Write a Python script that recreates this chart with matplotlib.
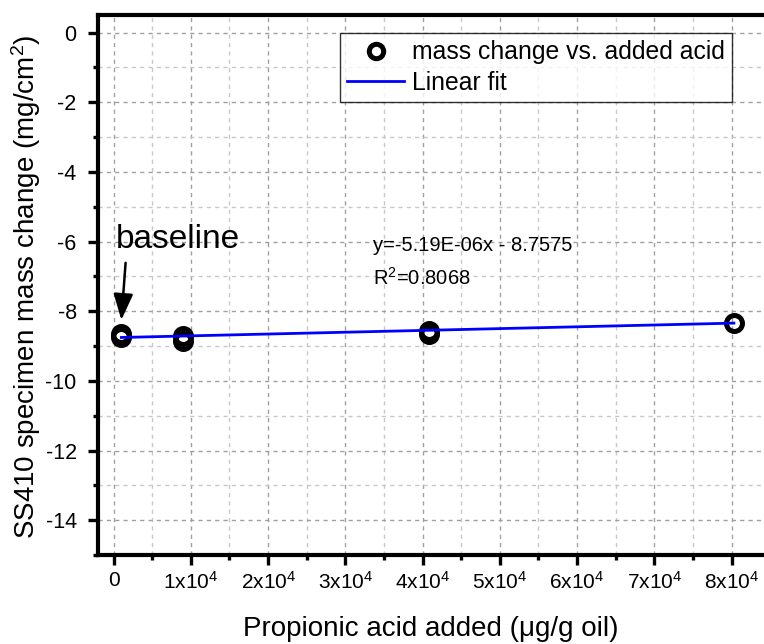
import numpy as np
import matplotlib
matplotlib.use("Agg")
import matplotlib.pyplot as plt
from matplotlib.ticker import MultipleLocator, FixedLocator, FixedFormatter

plt.rcParams["font.family"] = ["Liberation Sans", "DejaVu Sans"]
plt.rcParams["mathtext.fontset"] = "custom"
plt.rcParams["mathtext.rm"] = "Liberation Sans"
plt.rcParams["mathtext.default"] = "regular"
plt.rcParams["axes.unicode_minus"] = False

# propionic acid added (ug/g oil) and specimen mass change (mg/cm2)
acid_added = [1000, 1000, 9000, 9000, 40800, 40800, 80300]
mass_change = [-8.65, -8.75, -8.72, -8.85, -8.56, -8.65, -8.33]

# linear fit
fit_slope = 5.19e-6
fit_intercept = -8.7575
fit_label = "y=-5.19E-06x - 8.7575"
r2_label = "R$^2$=0.8068"

x_ticks = [0, 10000, 20000, 30000, 40000, 50000, 60000, 70000, 80000]
x_ticklabels = ["0"] + [f"{i}x10$^4$" for i in range(1, 9)]
y_ticks = [0, -2, -4, -6, -8, -10, -12, -14]

fig = plt.figure(figsize=(7.64, 6.44), dpi=100)
ax = fig.add_axes([0.128, 0.138, 0.872, 0.8385])

ax.plot(acid_added, mass_change, "o", ms=11.5, mfc="none", mec="black",
        mew=3.6, ls="none", label="mass change vs. added acid", zorder=3)

fx = np.array([min(acid_added), max(acid_added)])
ax.plot(fx, fit_slope * fx + fit_intercept, color="blue", lw=2,
        label="Linear fit", zorder=4)

ax.set_xlim(-2050, 84200)
ax.set_ylim(-15, 0.5)

ax.xaxis.set_major_locator(FixedLocator(x_ticks))
ax.xaxis.set_major_formatter(FixedFormatter(x_ticklabels))
ax.xaxis.set_minor_locator(MultipleLocator(5000))
ax.yaxis.set_major_locator(FixedLocator(y_ticks))
ax.yaxis.set_minor_locator(MultipleLocator(1))

ax.grid(which="major", color="#a0a0a0", ls=(0, (3, 3)), lw=1)
ax.grid(which="minor", color="#c8c8c8", ls=(0, (3, 3)), lw=1)
ax.set_axisbelow(True)

ax.tick_params(which="major", direction="out", length=7.2, width=2.4,
               labelsize=15, pad=4)
ax.tick_params(which="minor", direction="out", length=3.6, width=2.4)
ax.tick_params(axis="y", pad=8, labelsize=15.5)
ax.tick_params(top=False, right=False)

for side in ["left", "bottom", "top"]:
    ax.spines[side].set_linewidth(3)
ax.spines["right"].set_visible(False)

ax.set_xlabel("Propionic acid added (μg/g oil)", fontsize=20, va="center")
ax.xaxis.set_label_coords(0.5, -0.137)
ax.set_ylabel("SS410 specimen mass change (mg/cm$^2$)", fontsize=20, va="center")
ax.yaxis.set_label_coords(-0.108, 0.497)

ax.text(260, -5.95, "baseline", fontsize=24, ha="left", va="center")
ax.annotate("", xy=(1000, -8.25), xytext=(1550, -6.61),
            arrowprops=dict(arrowstyle="-|>,head_length=0.8,head_width=0.3",
                            color="black", lw=1.8, mutation_scale=20,
                            shrinkA=0, shrinkB=0))

ax.text(33600, -6.1, fit_label, fontsize=14.5, ha="left", va="center")
ax.text(33600, -7.05, r2_label, fontsize=14.5, ha="left", va="center")

leg = ax.legend(loc="upper right", bbox_to_anchor=(0.952, 0.967), fontsize=17.8,
                frameon=True, fancybox=False, edgecolor="black",
                handlelength=2.3, borderpad=0.3, labelspacing=0.25,
                handletextpad=0.3, borderaxespad=0, markerscale=0.9)
leg.get_frame().set_linewidth(1)

fig.savefig("out.png", dpi=100)
